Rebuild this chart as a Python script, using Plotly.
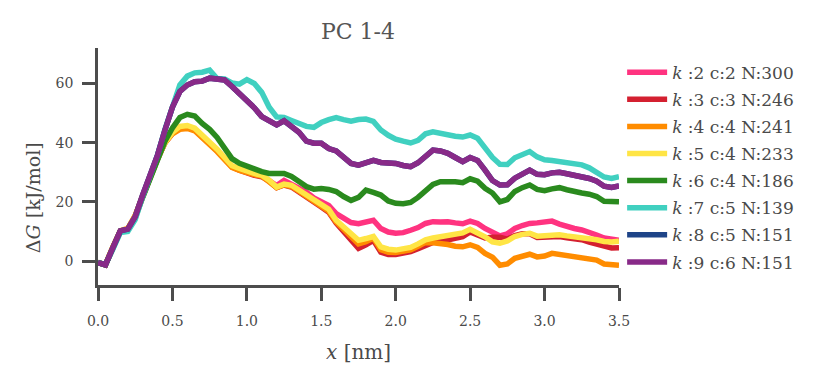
import plotly.graph_objects as go

# reaction coordinate (nm), sampled every 0.05
x_nm = [round(i * 0.05, 2) for i in range(71)]

dg_k2 = [-0.5, -1.3, 4.5, 10.0, 10.8, 15.2, 21.8, 28.3, 34.5, 40.0,
         43.3, 45.0, 45.3, 44.5, 42.2, 40.2, 37.5, 34.8, 32.0, 31.0,
         30.0, 29.4, 28.8, 27.2, 25.5, 27.2, 26.0, 24.8, 23.3, 21.3,
         20.2, 18.8, 16.0, 14.6, 13.0, 12.6, 13.3, 13.8, 11.0, 9.8,
         9.4, 9.6, 10.4, 11.3, 12.7, 13.3, 13.2, 13.3, 12.9, 12.6,
         13.5, 12.7, 11.0, 9.8, 8.5, 9.2, 11.0, 12.0, 12.7, 12.9,
         13.4, 13.5, 12.5, 11.6, 11.0, 10.5, 9.8, 8.8, 7.8, 7.2, 7.0]

dg_k3 = [-0.5, -1.3, 4.6, 10.0, 10.8, 15.2, 21.8, 28.3, 34.5, 40.0,
         43.2, 44.8, 45.2, 44.3, 42.0, 40.0, 37.3, 34.6, 31.8, 30.7,
         29.8, 29.0, 28.5, 27.0, 24.8, 25.7, 25.0, 23.5, 22.0, 20.0,
         18.3, 16.5, 12.8, 10.0, 6.8, 4.3, 5.5, 7.0, 3.0, 2.2,
         2.2, 2.6, 3.2, 4.2, 5.5, 6.3, 6.6, 7.0, 7.6, 8.2,
         9.8, 9.0, 7.8, 8.0, 8.0, 7.4, 8.6, 9.2, 9.2, 8.0,
         8.2, 8.5, 8.3, 7.9, 7.6, 7.2, 6.4, 5.6, 4.8, 4.4, 4.5]

dg_k4 = [-0.5, -1.2, 4.8, 10.2, 11.0, 15.4, 22.0, 28.5, 34.5, 40.0,
         43.0, 44.5, 44.8, 44.0, 41.8, 39.8, 37.0, 34.3, 31.6, 30.6,
         29.8, 29.2, 28.7, 27.0, 24.8, 25.8, 25.2, 23.6, 22.0, 20.0,
         18.5, 16.8, 13.2, 10.6, 7.8, 5.8, 6.5, 7.8, 3.8, 3.0,
         2.9, 3.3, 3.8, 5.0, 6.3, 6.2, 6.0, 5.6, 5.0, 4.8,
         5.5, 4.6, 2.6, 1.3, -1.4, -1.0, 0.9, 1.8, 2.3, 1.4,
         1.7, 2.6, 2.2, 1.8, 1.5, 1.2, 0.8, 0.3, -1.0, -1.4, -1.4]

dg_k5 = [-0.5, -1.3, 4.6, 10.0, 10.8, 15.2, 21.8, 28.3, 34.5, 40.0,
         43.5, 45.5, 45.8, 44.9, 42.6, 40.6, 37.8, 35.0, 32.2, 31.3,
         30.2, 29.6, 29.0, 27.3, 25.0, 26.0, 25.6, 24.0, 22.5, 20.5,
         19.0, 17.5, 13.8, 11.5, 9.0, 7.0, 7.6, 8.3, 4.8, 4.0,
         3.7, 4.0, 4.6, 5.8, 7.2, 7.8, 8.2, 8.6, 9.0, 9.5,
         10.7, 9.5, 8.2, 6.5, 6.0, 6.8, 8.3, 9.0, 9.4, 8.4,
         8.6, 9.0, 8.9, 8.5, 8.2, 8.0, 7.7, 7.2, 6.6, 6.4, 6.7]

dg_k6 = [-0.5, -1.3, 4.3, 10.0, 10.6, 14.6, 21.5, 27.8, 34.5, 40.5,
         45.0, 48.5, 49.6, 49.0, 46.5, 44.5, 41.8, 38.3, 34.6, 33.0,
         32.0, 30.9, 30.2, 29.6, 29.4, 29.6, 28.6, 27.0, 25.2, 24.3,
         24.5, 24.2, 23.5, 21.8, 20.5, 21.5, 24.0, 23.2, 22.3, 20.3,
         19.5, 19.4, 19.8, 21.5, 23.8, 25.9, 26.8, 27.0, 26.8, 26.5,
         27.8, 27.0, 24.6, 23.0, 20.0, 20.8, 23.5, 24.8, 25.7, 24.2,
         23.8, 24.4, 24.8, 24.1, 23.4, 23.0, 22.6, 21.8, 20.2, 19.9, 20.0]

dg_k7 = [-0.5, -1.2, 4.0, 9.6, 10.0, 14.0, 21.8, 28.8, 35.8, 44.5,
         52.5, 59.5, 62.5, 63.6, 63.8, 64.5, 61.7, 61.5, 60.2, 59.8,
         61.3, 60.0, 57.0, 52.0, 48.7, 48.5, 47.5, 46.4, 45.5, 45.2,
         46.8, 47.8, 48.5, 47.8, 47.3, 47.8, 48.0, 47.2, 44.3, 42.5,
         41.2, 40.5, 39.9, 40.8, 43.0, 43.7, 43.1, 42.6, 42.2, 41.9,
         42.6, 41.5, 38.1, 35.0, 32.7, 32.6, 34.9, 36.0, 37.0, 35.2,
         34.2, 34.0, 33.6, 33.3, 32.9, 32.5, 31.5, 30.2, 28.4, 27.9, 28.5]

dg_k9 = [-0.5, -1.3, 4.5, 10.2, 10.8, 15.0, 22.3, 29.0, 35.8, 44.3,
         52.0, 57.3, 59.5, 60.6, 60.8, 61.8, 61.7, 61.2, 59.0, 56.5,
         54.5, 51.8, 48.8, 47.4, 46.0, 47.4, 45.5, 43.5, 40.5, 39.8,
         39.8, 38.0, 37.2, 35.0, 33.0, 32.4, 33.3, 34.0, 33.3, 33.3,
         33.0, 32.3, 31.9, 33.2, 35.5, 37.5, 37.2, 36.4, 35.0, 33.6,
         35.0, 34.0, 30.7, 27.2, 25.7, 25.8, 28.0, 29.5, 30.7, 29.3,
         29.2, 29.8, 30.0, 29.5, 29.0, 28.6, 27.9, 27.0, 25.3, 24.9, 25.4]

# k:8 lies exactly underneath k:9
dg_k8 = list(dg_k9)

labels = ["<i>k</i> :2 c:2 N:300", "<i>k</i> :3 c:3 N:246", "<i>k</i> :4 c:4 N:241",
          "<i>k</i> :5 c:4 N:233", "<i>k</i> :6 c:4 N:186", "<i>k</i> :7 c:5 N:139",
          "<i>k</i> :8 c:5 N:151", "<i>k</i> :9 c:6 N:151"]
series = [dg_k2, dg_k3, dg_k4, dg_k5, dg_k6, dg_k7, dg_k8, dg_k9]
colors = ["#ff3380", "#d42030", "#ff8c00", "#ffe545",
          "#2a8a1e", "#40d0c0", "#1e4488", "#882a88"]

FONT = "DejaVu Serif"
AX = "#4d4d4d"
TXT = "#4a4a4a"

fig = go.Figure()
for i, (lab, ys, col) in enumerate(zip(labels, series, colors)):
    fig.add_trace(go.Scatter(x=x_nm, y=ys, mode="lines", name=lab, legendgroup=str(i),
                             line=dict(color=col, width=5.5)))

# page body adds an 8px offset, so the figure is sized to fit inside the window
fig.update_layout(
    width=822, height=372,
    margin=dict(l=90, r=211, t=40, b=95),
    plot_bgcolor="white", paper_bgcolor="white",
    font=dict(family=FONT, color=TXT, size=15),
    title=dict(text="PC 1-4", x=350 / 822, xanchor="center", y=0.938, yanchor="middle",
               font=dict(size=22, color="#555555")),
    legend=dict(x=1.006, y=0.972, xanchor="left", yanchor="top",
                font=dict(size=17, color=TXT), itemwidth=40,
                tracegroupgap=2, bgcolor="rgba(0,0,0,0)"),
)
fig.update_xaxes(range=[0, 3.5], tickvals=[0, 0.5, 1, 1.5, 2, 2.5, 3, 3.5],
                 ticktext=["0.0", "0.5", "1.0", "1.5", "2.0", "2.5", "3.0", "3.5"],
                 showgrid=False, zeroline=False, showline=True, linecolor=AX, linewidth=2.5,
                 ticks="outside", ticklen=13, tickwidth=2.5, tickcolor=AX,
                 ticklabelstandoff=8,
                 tickfont=dict(size=14, color=TXT), automargin=False)
fig.update_yaxes(range=[-8.1, 72], tickvals=[0, 20, 40, 60],
                 showgrid=False, zeroline=False, showline=True, linecolor=AX, linewidth=2.5,
                 ticks="outside", ticklen=13, tickwidth=2.5, tickcolor=AX,
                 ticklabelstandoff=6,
                 tickfont=dict(size=14, color=TXT), automargin=False)

# axis titles placed as annotations so the plot area stays fixed
fig.add_annotation(text="<i>x</i> [nm]", xref="paper", yref="paper", x=0.5, y=-0.283,
                   xanchor="center", yanchor="middle", showarrow=False,
                   font=dict(size=20, color=TXT))
fig.add_annotation(text="Δ<i>G</i> [kJ/mol]", xref="paper", yref="paper", x=-0.125, y=0.37,
                   xanchor="center", yanchor="middle", textangle=-90, showarrow=False,
                   font=dict(size=19, color=TXT))

fig.write_html("out.html")
